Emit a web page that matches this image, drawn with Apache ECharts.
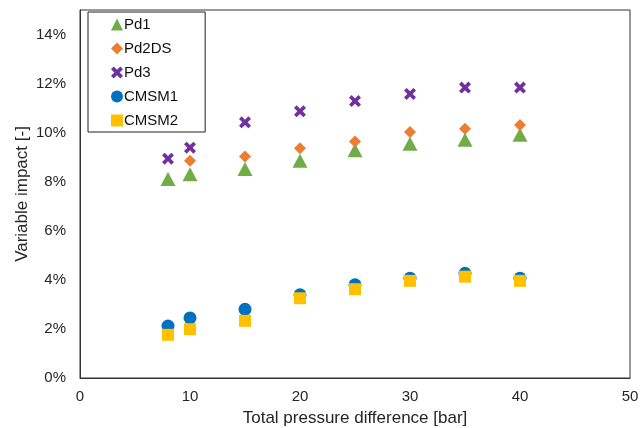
<!DOCTYPE html>
<html>
<head>
<meta charset="utf-8">
<script src="https://cdn.jsdelivr.net/npm/echarts@6/dist/echarts.min.js"></script>
<style>html,body{margin:0;padding:0;background:#fff}#c{width:640px;height:428px}</style>
</head>
<body>
<div id="c"></div>
<script>
const xPd1 = [8, 10, 15, 20, 25, 30, 35, 40];
const pd1 = [0.0811, 0.0831, 0.0852, 0.0886, 0.0928, 0.0955, 0.0971, 0.0992];
const xPd2DS = [10, 15, 20, 25, 30, 35, 40];
const pd2ds = [0.0886, 0.0903, 0.0936, 0.0964, 0.1003, 0.1016, 0.1031];
const xPd3 = [8, 10, 15, 20, 25, 30, 35, 40];
const pd3 = [0.0894, 0.0939, 0.1042, 0.1087, 0.1129, 0.1158, 0.1184, 0.1184];
const xCMSM1 = [8, 10, 15, 20, 25, 30, 35, 40];
const cmsm1 = [0.0212, 0.0245, 0.0280, 0.0339, 0.0380, 0.0407, 0.0427, 0.0407];
const xCMSM2 = [8, 10, 15, 20, 25, 30, 35, 40];
const cmsm2 = [0.0176, 0.0199, 0.0233, 0.0325, 0.0362, 0.0396, 0.0413, 0.0396];

const pair = (xs, ys) => xs.map((x, i) => [x, ys[i]]);
const xSym = 'path://M0,2.2 L2.2,0 L5,2.8 L7.8,0 L10,2.2 L7.2,5 L10,7.8 L7.8,10 L5,7.2 L2.2,10 L0,7.8 L2.8,5 Z';
const textColor = '#262626';
const font = '"Liberation Sans", Arial, sans-serif';

const chart = echarts.init(document.getElementById('c'), null, {renderer: 'canvas'});
chart.setOption({
  animation: false,
  backgroundColor: '#fff',
  textStyle: {fontFamily: font},
  grid: {left: 80, right: 10, top: 10, bottom: 50, containLabel: false, outerBoundsMode: 'none',
         show: true, borderColor: '#333', borderWidth: 1},
  legend: {
    orient: 'vertical', left: 88, top: 12,
    backgroundColor: '#fff', borderColor: '#222', borderWidth: 1,
    padding: [5, 27, 4, 23],
    itemWidth: 12, itemHeight: 12, itemGap: 9,
    textStyle: {fontSize: 15, color: '#111', fontFamily: font, padding: [0, 0, 0, -4]},
    data: ['Pd1', 'Pd2DS', 'Pd3', 'CMSM1', 'CMSM2']
  },
  xAxis: {
    type: 'value', min: 0, max: 50, interval: 10,
    name: 'Total pressure difference [bar]', nameLocation: 'middle', nameGap: 32, nameMoveOverlap: false,
    nameTextStyle: {fontSize: 17, color: textColor, fontFamily: font},
    axisLine: {show: true, lineStyle: {color: '#333'}},
    axisTick: {show: false},
    splitLine: {show: false},
    axisLabel: {fontSize: 15, color: textColor, margin: 11, fontFamily: font}
  },
  yAxis: {
    type: 'value', min: 0, max: 0.15, interval: 0.02,
    name: 'Variable impact [-]', nameLocation: 'middle', nameGap: 49, nameMoveOverlap: false,
    nameTextStyle: {fontSize: 17, color: textColor, fontFamily: font},
    axisLine: {show: true, lineStyle: {color: '#333'}},
    axisTick: {show: false},
    splitLine: {show: false},
    axisLabel: {
      fontSize: 15, color: textColor, margin: 14, fontFamily: font,
      formatter: v => (v > 0.145 ? '' : Math.round(v * 100) + '%')
    }
  },
  series: [
    {name: 'Pd1', type: 'scatter', symbol: 'triangle', symbolSize: [15, 14], itemStyle: {color: '#70AD47', opacity: 1}, data: pair(xPd1, pd1)},
    {name: 'Pd2DS', type: 'scatter', symbol: 'diamond', symbolSize: 12, itemStyle: {color: '#ED7D31', opacity: 1}, data: pair(xPd2DS, pd2ds)},
    {name: 'Pd3', type: 'scatter', symbol: xSym, symbolSize: 12, itemStyle: {color: '#7030A0', opacity: 1}, data: pair(xPd3, pd3)},
    {name: 'CMSM1', type: 'scatter', symbol: 'circle', symbolSize: 13, itemStyle: {color: '#0070C0', opacity: 1}, data: pair(xCMSM1, cmsm1)},
    {name: 'CMSM2', type: 'scatter', symbol: 'rect', symbolSize: 12, itemStyle: {color: '#FFC000', opacity: 1}, data: pair(xCMSM2, cmsm2)}
  ]
});
</script>
</body>
</html>
